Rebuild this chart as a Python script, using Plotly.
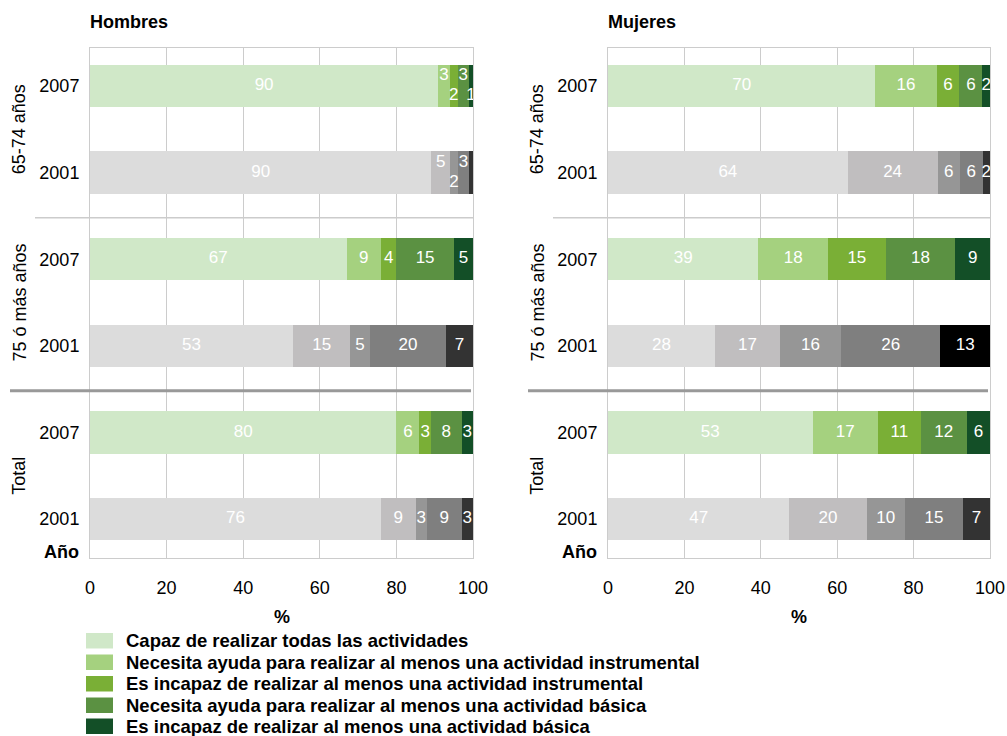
import numpy as np
import plotly.graph_objects as go

# Rows, top to bottom: (age group, year)
groups = ["65-74 años", "75 ó más años", "Total"]
years = ["2007", "2001", "2007", "2001", "2007", "2001"]

series_names = [
    "Capaz de realizar todas las actividades",
    "Necesita ayuda para realizar al menos una actividad instrumental",
    "Es incapaz de realizar al menos una actividad instrumental",
    "Necesita ayuda para realizar al menos una actividad básica",
    "Es incapaz de realizar al menos una actividad básica",
]

# Hombres, one list per category (rows in the order above)
h_capaz = [90, 90, 67, 53, 80, 76]
h_ayuda_instr = [3, 5, 9, 15, 6, 9]
h_incapaz_instr = [2, 2, 4, 5, 3, 3]
h_ayuda_basica = [3, 3, 15, 20, 8, 9]
h_incapaz_basica = [1, 1, 5, 7, 3, 3]

# Mujeres
m_capaz = [70, 64, 39, 28, 53, 47]
m_ayuda_instr = [16, 24, 18, 17, 17, 20]
m_incapaz_instr = [6, 6, 15, 16, 11, 10]
m_ayuda_basica = [6, 6, 18, 26, 12, 15]
m_incapaz_basica = [2, 2, 9, 13, 6, 7]

hombres = [h_capaz, h_ayuda_instr, h_incapaz_instr, h_ayuda_basica, h_incapaz_basica]
mujeres = [m_capaz, m_ayuda_instr, m_incapaz_instr, m_ayuda_basica, m_incapaz_basica]

# Colours: 2007 rows in greens, 2001 rows in greys
greens = ["#d0e8c8", "#a5d17f", "#7aaf36", "#5b9142", "#134f27"]
greys = ["#dcdcdc", "#c0bebf", "#969696", "#7f7f7f", "#333333"]
colour_override = {("Mujeres", 3, 4): "#000000"}

# Small segments whose labels are lifted or dropped (pixels), and hidden labels
label_nudge = {
    ("Hombres", 0, 1): -10, ("Hombres", 0, 2): 10, ("Hombres", 0, 3): -10, ("Hombres", 0, 4): 10,
    ("Hombres", 1, 1): -10, ("Hombres", 1, 2): 10, ("Hombres", 1, 3): -10,
}
hidden_labels = {("Hombres", 1, 4)}

W, H = 1007, 736
FONT = "Liberation Sans, Arial, Helvetica, sans-serif"
ROW_PX = 86.6
ROW0_PX = 86


def px_x(p):
    return p / W


def px_y(p):
    return 1 - p / H


panels = [
    ("Hombres", hombres, 90, 473, "x", "y"),
    ("Mujeres", mujeres, 608, 990, "x2", "y2"),
]

fig = go.Figure()
rows = list(range(len(years)))

annotations = []
shapes = []

for name, data, left, right, xa, ya in panels:
    vals = np.array(data, dtype=float)  # series x rows
    for k in range(len(series_names)):
        cols = []
        for r in rows:
            c = greens[k] if years[r] == "2007" else greys[k]
            cols.append(colour_override.get((name, r, k), c))
        fig.add_trace(go.Bar(
            x=data[k], y=rows, orientation="h", width=0.49,
            marker=dict(color=cols, line=dict(width=0)),
            name=series_names[k], showlegend=False,
            xaxis=xa, yaxis=ya, hoverinfo="skip",
        ))
    # label positions follow the normalised stack
    share = vals / vals.sum(axis=0) * 100
    ends = np.cumsum(share, axis=0)
    mids = ends - share / 2
    tx, ty, tt = [], [], []
    for k in range(len(series_names)):
        for r in rows:
            if (name, r, k) in hidden_labels:
                continue
            tx.append(mids[k, r])
            ty.append(r + label_nudge.get((name, r, k), 0) / ROW_PX)
            tt.append(str(data[k][r]))
    fig.add_trace(go.Scatter(
        x=tx, y=ty, text=tt, mode="text",
        textfont=dict(family=FONT, size=17, color="#ffffff"),
        showlegend=False, xaxis=xa, yaxis=ya, hoverinfo="skip", cliponaxis=False,
    ))

    # panel title
    annotations.append(dict(
        text="<b>%s</b>" % name, xref="paper", yref="paper",
        x=px_x(left - 2), y=px_y(22), xanchor="left", yanchor="middle",
        showarrow=False, font=dict(family=FONT, size=18, color="#000"),
    ))
    # "%" axis title
    annotations.append(dict(
        text="<b>%</b>", xref="paper", yref="paper",
        x=px_x((left + right) / 2), y=px_y(617), xanchor="center", yanchor="middle",
        showarrow=False, font=dict(family=FONT, size=18, color="#000"),
    ))
    # "Año" header under the year labels
    annotations.append(dict(
        text="<b>Año</b>", xref="paper", yref="paper",
        x=px_x(left - 9), y=px_y(552), xanchor="right", yanchor="middle",
        showarrow=False, font=dict(family=FONT, size=18, color="#000"),
    ))
    # rotated group labels
    for g, gname in enumerate(groups):
        annotations.append(dict(
            text=gname, xref="paper", yref=ya,
            x=px_x(left - 71), y=2 * g + 0.5, textangle=-90,
            xanchor="center", yanchor="middle", showarrow=False,
            font=dict(family=FONT, size=18, color="#000"),
        ))
    # separators between age groups
    shapes.append(dict(type="line", xref="paper", yref=ya,
                       x0=px_x(left - 55), x1=px_x(right), y0=1.52, y1=1.52,
                       line=dict(color="#cccccc", width=1.5)))
    shapes.append(dict(type="line", xref="paper", yref=ya,
                       x0=px_x(left - 80), x1=px_x(right - 2), y0=3.52, y1=3.52,
                       line=dict(color="#999999", width=3)))

# legend drawn as swatches + labels
leg_top = [633, 654.5, 676, 697.5, 718.5]
for k, nm in enumerate(series_names):
    t = leg_top[k]
    shapes.append(dict(type="rect", xref="paper", yref="paper",
                       x0=px_x(86), x1=px_x(113), y0=px_y(t), y1=px_y(t + 15.5),
                       fillcolor=greens[k], line=dict(width=0)))
    annotations.append(dict(
        text="<b>%s</b>" % nm, xref="paper", yref="paper",
        x=px_x(125), y=px_y(t + 7.5), xanchor="left", yanchor="middle",
        showarrow=False, borderpad=0,
        font=dict(family=FONT, size=18.5, color="#000"),
    ))

xaxis_style = dict(
    range=[0, 100], tickvals=[0, 20, 40, 60, 80, 100],
    showgrid=True, gridcolor="#cccccc", gridwidth=1,
    showline=True, linecolor="#cccccc", linewidth=1, mirror=True,
    zeroline=False, ticks="", ticklabelstandoff=13, automargin=False,
    tickfont=dict(family=FONT, size=18, color="#000"), fixedrange=True,
)
yrange = [(558 - ROW0_PX) / ROW_PX, (48 - ROW0_PX) / ROW_PX]
yaxis_style = dict(
    range=yrange, tickvals=rows, ticktext=years,
    showgrid=False, showline=True, linecolor="#cccccc", linewidth=1, mirror=True,
    zeroline=False, ticks="", ticklabelstandoff=6, automargin=False,
    tickfont=dict(family=FONT, size=18, color="#000"), fixedrange=True,
)

y_dom = [px_y(558), px_y(48)]
fig.update_layout(
    width=W, height=H, autosize=False,
    margin=dict(l=0, r=0, t=0, b=0, pad=0),
    paper_bgcolor="#ffffff", plot_bgcolor="#ffffff",
    barmode="stack", barnorm="percent",
    font=dict(family=FONT, size=18, color="#000"),
    xaxis=dict(domain=[px_x(90), px_x(473)], anchor="y", **xaxis_style),
    yaxis=dict(domain=y_dom, anchor="x", **yaxis_style),
    xaxis2=dict(domain=[px_x(608), px_x(990)], anchor="y2", **xaxis_style),
    yaxis2=dict(domain=y_dom, anchor="x2", **yaxis_style),
    annotations=annotations, shapes=shapes,
    showlegend=False,
)

fig.write_html("out.html", config={"responsive": False, "displayModeBar": False})
